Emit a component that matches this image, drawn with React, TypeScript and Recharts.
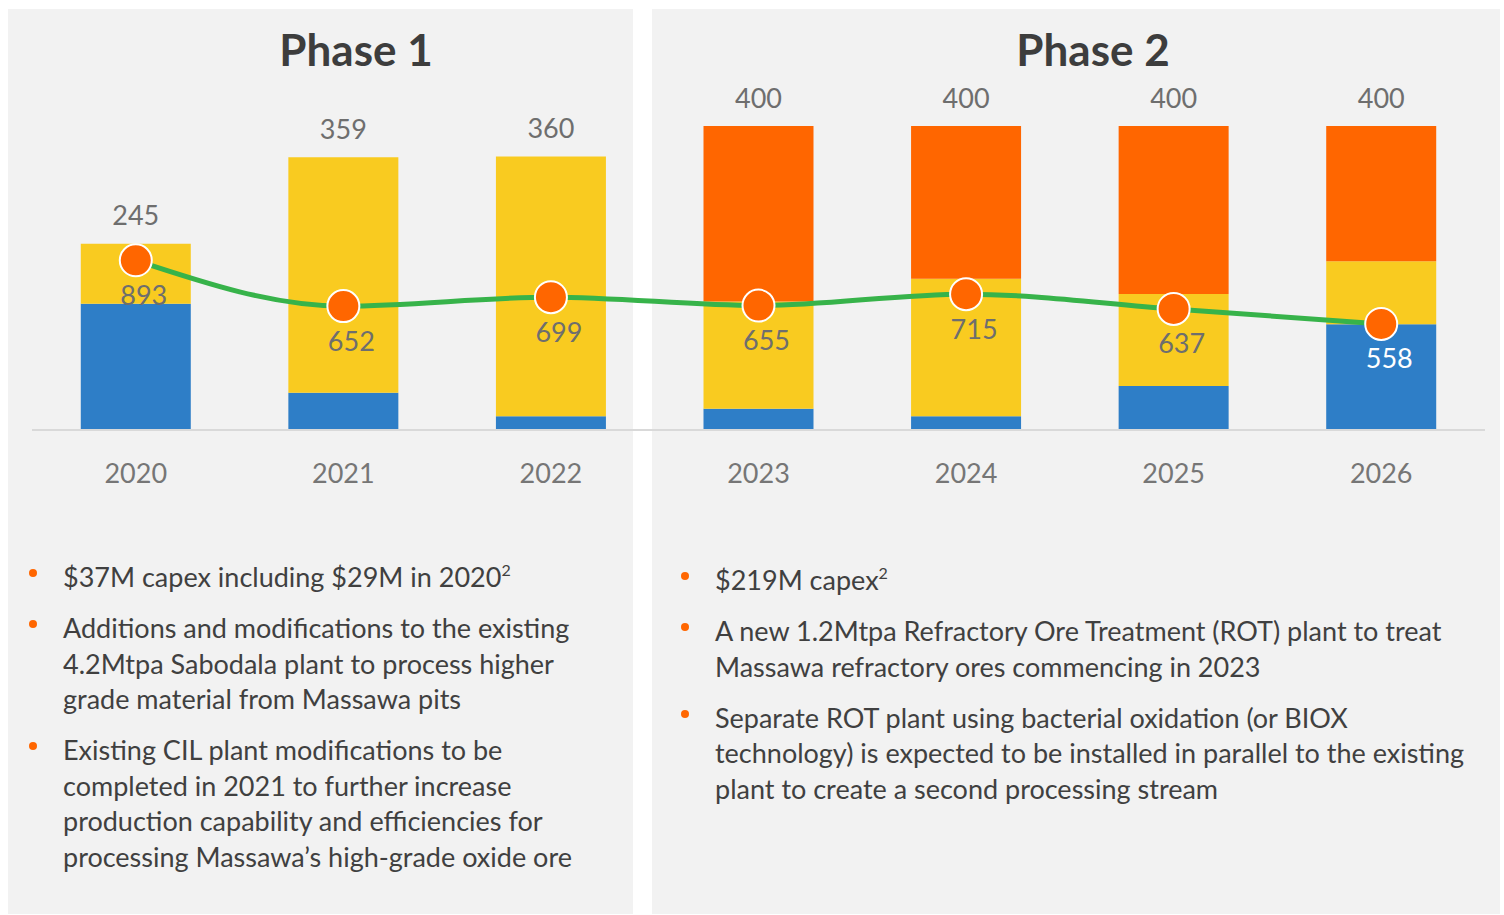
import React from 'react';
import { ComposedChart, Bar, Line, XAxis, YAxis, LabelList } from 'recharts';

// values (bar axis: kt ore, line axis: koz)
const years = ['2020', '2021', '2022', '2023', '2024', '2025', '2026'];
const blueValues = [166, 49, 18, 28, 18, 58, 139];
const yellowValues = [79, 310, 342, 141, 181, 121, 83];
const orangeValues = [0, 0, 0, 231, 201, 221, 178];
const lineValues = [893, 652, 699, 655, 715, 637, 558];

const phaseTitles = ['Phase 1', 'Phase 2'];

const phase1Bullets = [
  { lines: ['$37M capex including $29M in 2020'], note: '2' },
  {
    lines: [
      'Additions and modifications to the existing',
      '4.2Mtpa Sabodala plant to process higher',
      'grade material from Massawa pits',
    ],
  },
  {
    lines: [
      'Existing CIL plant modifications to be',
      'completed in 2021 to further increase',
      'production capability and efficiencies for',
      'processing Massawa\u2019s high-grade oxide ore',
    ],
  },
];

const phase2Bullets = [
  { lines: ['$219M capex'], note: '2' },
  {
    lines: [
      'A new 1.2Mtpa Refractory Ore Treatment (ROT) plant to treat',
      'Massawa refractory ores commencing in 2023',
    ],
  },
  {
    lines: [
      'Separate ROT plant using bacterial oxidation (or BIOX',
      'technology) is expected to be installed in parallel to the existing',
      'plant to create a second processing stream',
    ],
  },
];

const BLUE = '#2E7EC7';
const YELLOW = '#F9CB20';
const ORANGE = '#FF6600';
const GREEN = '#37B34A';
const LABEL_GRAY = '#6E6E6E';
const TEXT = '#404040';
const PANEL = '#F2F2F2';
const FONT = 'Lato, "Open Sans", sans-serif';

const W = 1504;
const CHART_H = 520;
const MARGIN = { top: 50, right: 19, bottom: 0, left: 32 };
const XAXIS_H = 90;
const BAR_MAX = 500;
const LINE_MAX = 2000;
const plotBottom = CHART_H - MARGIN.bottom - XAXIS_H;
const plotH = plotBottom - MARGIN.top;

const data = years.map((year, i) => ({
  year,
  blue: blueValues[i],
  yellow: yellowValues[i],
  orange: orangeValues[i],
  total: blueValues[i] + yellowValues[i] + orangeValues[i],
  grade: lineValues[i],
}));

const YearTick = ({ x, payload }: any) => (
  <text
    x={x}
    y={plotBottom + 42}
    textAnchor="middle"
    dominantBaseline="central"
    fill="#767676"
    fontSize={27}
    fontFamily={FONT}
  >
    {payload.value}
  </text>
);

const TotalLabel = ({ x, y, value }: any) => (
  <text
    x={x}
    y={y - 29}
    textAnchor="middle"
    dominantBaseline="central"
    fill={LABEL_GRAY}
    fontSize={27}
    fontFamily={FONT}
  >
    {value}
  </text>
);

const GradeLabel = ({ x, y, value, index }: any) => {
  const ly = y + 34;
  // white text when the label sits on the blue segment
  const blueTop = plotBottom - (blueValues[index] / BAR_MAX) * plotH;
  return (
    <text
      x={x + 8}
      y={ly}
      textAnchor="middle"
      dominantBaseline="central"
      fill={ly > blueTop ? '#FFFFFF' : LABEL_GRAY}
      fontSize={27}
      fontFamily={FONT}
    >
      {value}
    </text>
  );
};

function Bullets({ items, left, top }: { items: { lines: string[]; note?: string }[]; left: number; top: number }) {
  return (
    <div style={{ position: 'absolute', left, top, fontFamily: FONT, fontSize: 27, color: TEXT }}>
      {items.map((item, i) => (
        <div key={i} style={{ position: 'relative', marginBottom: 15.5, lineHeight: '35.5px', paddingLeft: 30 }}>
          <div
            style={{
              position: 'absolute',
              left: -4,
              top: 10,
              width: 8,
              height: 8,
              borderRadius: 4,
              background: ORANGE,
            }}
          />
          {item.lines.map((line, j) => (
            <div key={j} style={{ whiteSpace: 'nowrap' }}>
              {line}
              {item.note && j === item.lines.length - 1 ? (
                <sup style={{ fontSize: 16, verticalAlign: 'top', lineHeight: '22px' }}>{item.note}</sup>
              ) : null}
            </div>
          ))}
        </div>
      ))}
    </div>
  );
}

export default function App() {
  return (
    <div style={{ position: 'absolute', left: 0, top: 0, width: W, height: 915, background: '#FFFFFF', overflow: 'hidden' }}>
      <div style={{ position: 'absolute', left: 8, top: 9, width: 625, height: 905, background: PANEL }} />
      <div style={{ position: 'absolute', left: 652, top: 9, width: 848, height: 905, background: PANEL }} />

      {phaseTitles.map((t, i) => (
        <div
          key={t}
          style={{
            position: 'absolute',
            left: i === 0 ? 356 - 150 : 1093 - 150,
            top: 24,
            width: 300,
            textAlign: 'center',
            fontFamily: FONT,
            fontWeight: 700,
            fontSize: 44,
            lineHeight: '50px',
            color: '#3D3D3D',
          }}
        >
          {t}
        </div>
      ))}

      <div style={{ position: 'absolute', left: 0, top: 0 }}>
        <ComposedChart width={W} height={CHART_H} data={data} margin={MARGIN} barCategoryGap="23.5%">
          <XAxis
            dataKey="year"
            height={XAXIS_H}
            tickLine={false}
            axisLine={{ stroke: '#D9D9D9', strokeWidth: 2 }}
            tick={<YearTick />}
            interval={0}
          />
          <YAxis yAxisId="bar" hide domain={[0, BAR_MAX]} />
          <YAxis yAxisId="grade" hide orientation="right" domain={[0, LINE_MAX]} />
          <Bar yAxisId="bar" dataKey="blue" stackId="s" fill={BLUE} isAnimationActive={false} />
          <Bar yAxisId="bar" dataKey="yellow" stackId="s" fill={YELLOW} isAnimationActive={false} />
          <Bar yAxisId="bar" dataKey="orange" stackId="s" fill={ORANGE} isAnimationActive={false} />
          <Line
            yAxisId="bar"
            dataKey="total"
            stroke="none"
            dot={false}
            activeDot={false}
            isAnimationActive={false}
          >
            <LabelList dataKey="total" content={<TotalLabel />} />
          </Line>
          <Line
            yAxisId="grade"
            type="monotone"
            dataKey="grade"
            stroke={GREEN}
            strokeWidth={5}
            dot={{ r: 16, fill: ORANGE, stroke: '#FFFFFF', strokeWidth: 2 }}
            activeDot={false}
            isAnimationActive={false}
          >
            <LabelList dataKey="grade" content={<GradeLabel />} />
          </Line>
        </ComposedChart>
      </div>

      <Bullets items={phase1Bullets} left={33} top={559} />
      <Bullets items={phase2Bullets} left={685} top={562} />
    </div>
  );
}
